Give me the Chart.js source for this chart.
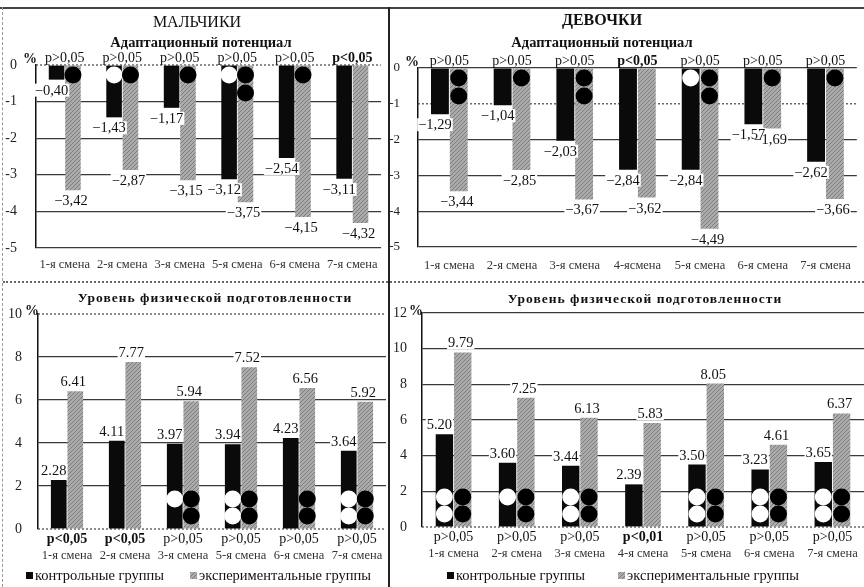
<!DOCTYPE html>
<html>
<head>
<meta charset="utf-8">
<title>Адаптационный потенциал и уровень физической подготовленности</title>
<script src="https://cdn.jsdelivr.net/npm/chart.js@4.4.1/dist/chart.umd.min.js"></script>
<style>
body { margin:0; width:864px; height:587px; position:relative; overflow:hidden; background:#fff;
       font-family:"Liberation Serif", serif; color:#111; }
canvas { position:absolute; }
.ttl { position:absolute; width:400px; text-align:center; line-height:1; white-space:nowrap; }
.rule { position:absolute; }
</style>
</head>
<body>

<canvas id="boys-adapt-viz"  style="left:0px;top:0px;width:389px;height:288px"   width="389" height="288"></canvas>
<canvas id="girls-adapt-viz" style="left:390px;top:0px;width:474px;height:288px" width="474" height="288"></canvas>
<canvas id="boys-fit-viz"    style="left:0px;top:283px;width:389px;height:304px"   width="389" height="304"></canvas>
<canvas id="girls-fit-viz"   style="left:390px;top:283px;width:474px;height:304px" width="474" height="304"></canvas>

<div class="ttl" style="left:-3px;top:14px;font-size:16px">МАЛЬЧИКИ</div>
<div class="ttl" style="left:1px;top:35px;font-size:14.5px;font-weight:bold">Адаптационный потенциал</div>
<div class="ttl" style="left:402px;top:12px;font-size:16px;font-weight:bold">ДЕВОЧКИ</div>
<div class="ttl" style="left:402px;top:35px;font-size:14.5px;font-weight:bold">Адаптационный потенциал</div>
<div class="ttl" style="left:15px;top:291px;font-size:13.5px;font-weight:bold;letter-spacing:1px">Уровень физической подготовленности</div>
<div class="ttl" style="left:445px;top:292px;font-size:13.5px;font-weight:bold;letter-spacing:1px">Уровень физической подготовленности</div>

<div class="rule" style="left:0;top:7px;width:864px;border-top:2px solid #444"></div>
<div class="rule" style="left:388px;top:7px;height:580px;border-left:2px solid #222"></div>
<div class="rule" style="left:3px;top:281px;width:861px;border-top:2px dotted #666"></div>
<div class="rule" style="left:2px;top:7px;height:580px;border-left:1px dashed #999"></div>

<script>
// Shifts (categories)
var shiftsBoys      = ['1-я смена', '2-я смена', '3-я смена', '5-я смена', '6-я смена', '7-я смена'];
var shiftsGirls     = ['1-я смена', '2-я смена', '3-я смена', '4-ясмена', '5-я смена', '6-я смена', '7-я смена'];
var shiftsGirlsFit  = ['1-я смена', '2-я смена', '3-я смена', '4-я смена', '5-я смена', '6-я смена', '7-я смена'];

// Adaptation potential, % change
var boysAdaptCtrl  = [-0.40, -1.43, -1.17, -3.12, -2.54, -3.11];
var boysAdaptExp   = [-3.42, -2.87, -3.15, -3.75, -4.15, -4.32];
var boysAdaptP     = ['p>0,05', 'p>0,05', 'p>0,05', 'p>0,05', 'p>0,05', 'p<0,05'];
var girlsAdaptCtrl = [-1.29, -1.04, -2.03, -2.84, -2.84, -1.57, -2.62];
var girlsAdaptExp  = [-3.44, -2.85, -3.67, -3.62, -4.49, -1.69, -3.66];
var girlsAdaptP    = ['p>0,05', 'p>0,05', 'p>0,05', 'p<0,05', 'p>0,05', 'p>0,05', 'p>0,05'];

// Physical fitness level, % change
var boysFitCtrl  = [2.28, 4.11, 3.97, 3.94, 4.23, 3.64];
var boysFitExp   = [6.41, 7.77, 5.94, 7.52, 6.56, 5.92];
var boysFitP     = ['p<0,05', 'p<0,05', 'p>0,05', 'p>0,05', 'p>0,05', 'p>0,05'];
var girlsFitCtrl = [5.20, 3.60, 3.44, 2.39, 3.50, 3.23, 3.65];
var girlsFitExp  = [9.79, 7.25, 6.13, 5.83, 8.05, 4.61, 6.37];
var girlsFitP    = ['p>0,05', 'p>0,05', 'p>0,05', 'p<0,01', 'p>0,05', 'p>0,05', 'p>0,05'];

// Circle markers per shift: white ones sit on the control bar, black ones on the experimental bar
var boysAdaptWhite  = [0, 1, 0, 1, 0, 0];
var boysAdaptBlack  = [1, 1, 1, 2, 1, 0];
var girlsAdaptWhite = [0, 0, 0, 0, 1, 0, 0];
var girlsAdaptBlack = [2, 1, 2, 0, 2, 1, 1];
var boysFitWhite    = [0, 0, 1, 2, 0, 2];
var boysFitBlack    = [0, 0, 2, 2, 2, 2];
var girlsFitWhite   = [2, 1, 2, 0, 2, 2, 2];
var girlsFitBlack   = [2, 2, 2, 0, 2, 2, 2];

Chart.defaults.font.family = '"Liberation Serif", "Times New Roman", serif';
Chart.defaults.color = '#222';

// grey hatched fill for the experimental groups
function make_hatch() {
	var c = document.createElement('canvas');
	c.width = 4; c.height = 4;
	var g = c.getContext('2d');
	g.fillStyle = '#ababab';
	g.fillRect(0, 0, 4, 4);
	g.strokeStyle = '#7c7c7c';
	g.lineWidth = 1;
	g.beginPath(); g.moveTo(0, 4); g.lineTo(4, 0); g.stroke();
	g.beginPath(); g.moveTo(-1, 1); g.lineTo(1, -1); g.stroke();
	g.beginPath(); g.moveTo(3, 5); g.lineTo(5, 3); g.stroke();
	return g.createPattern(c, 'repeat');
}
var hatch = make_hatch();

// dotted lines, circles, value labels, '%' sign and legend
var marksPlugin = {
	id: 'marks',
	beforeDatasetsDraw: function(chart) {
		var o = chart.options.plugins.marks;
		var ctx = chart.ctx, ys = chart.scales.y, area = chart.chartArea;
		ctx.save();
		ctx.strokeStyle = '#444';
		ctx.lineWidth = 1.2;
		ctx.setLineDash([2, 2]);
		o.dotted.forEach(function(v) {
			var y = ys.getPixelForValue(v);
			ctx.beginPath(); ctx.moveTo(area.left, y); ctx.lineTo(area.right, y); ctx.stroke();
		});
		ctx.restore();
	},
	afterDatasetsDraw: function(chart) {
		var o = chart.options.plugins.marks;
		var ctx = chart.ctx, ys = chart.scales.y;
		var base = ys.getPixelForValue(0);
		ctx.save();

		function dots(meta, counts, color) {
			counts.forEach(function(n, i) {
				for (var k = 0; k < n; k++) {
					var y = o.down ? base + 10 + k * 18 : base - 30 + k * 17;
					ctx.fillStyle = color;
					ctx.beginPath();
					ctx.arc(meta.data[i].x, y, 8.5, 0, Math.PI * 2);
					ctx.fill();
				}
			});
		}
		dots(chart.getDatasetMeta(0), o.white, '#fff');
		dots(chart.getDatasetMeta(1), o.black, '#000');

		// value labels: white boxes first, then the text
		ctx.font = '14.5px "Liberation Serif"';
		ctx.textAlign = 'center';
		ctx.textBaseline = 'top';
		var labels = [];
		chart.data.datasets.forEach(function(ds, d) {
			chart.getDatasetMeta(d).data.forEach(function(bar, i) {
				var v = ds.data[i];
				var txt = o.down ? '\u2212' + Math.abs(v).toFixed(2).replace('.', ',') : v.toFixed(2);
				labels.push({ txt: txt, x: bar.x + (d == 0 ? -5 : -2), y: o.down ? bar.y + 4 : bar.y - 16 });
			});
		});
		ctx.fillStyle = '#fff';
		labels.forEach(function(l) {
			var w = ctx.measureText(l.txt).width;
			ctx.fillRect(l.x - w / 2 - 1, l.y, w + 2, 13);
		});
		ctx.fillStyle = '#111';
		labels.forEach(function(l) { ctx.fillText(l.txt, l.x, l.y); });
		ctx.restore();
	},
	afterDraw: function(chart) {
		var o = chart.options.plugins.marks;
		var ctx = chart.ctx, area = chart.chartArea;
		ctx.save();
		ctx.font = 'bold 14px "Liberation Serif"';
		ctx.fillStyle = '#111';
		ctx.textAlign = 'right';
		ctx.textBaseline = 'middle';
		ctx.fillText('%', area.left + 1, area.top + o.pctDy);

		// legend row, centred in the panel
		if (o.legendY != null) {
			ctx.font = '14.5px "Liberation Serif"';
			ctx.textAlign = 'left';
			var items = chart.data.datasets;
			var total = 0;
			items.forEach(function(ds, d) {
				total += 9 + ctx.measureText(ds.label).width + (d > 0 ? o.legendGap : 0);
			});
			var x = chart.width / 2 - total / 2 + o.legendShift;
			items.forEach(function(ds) {
				ctx.fillStyle = ds.backgroundColor;
				ctx.fillRect(x, o.legendY - 4, 7, 7);
				ctx.fillStyle = '#111';
				ctx.fillText(ds.label, x + 9, o.legendY);
				x += 9 + ctx.measureText(ds.label).width + o.legendGap;
			});
		}
		ctx.restore();
	}
};

function generate_panel(canvas_id, xLabels, pLabels, ctrl, expr, white, black, cfg) {
	var ctx = document.getElementById(canvas_id);
	var datasets = [
		{ label: 'контрольные группы', data: ctrl, backgroundColor: '#0a0a0a',
		  barPercentage: 0.95, categoryPercentage: cfg.catPct, xAxisID: 'x', yAxisID: 'y' },
		{ label: 'экспериментальные группы', data: expr, backgroundColor: hatch,
		  barPercentage: 0.95, categoryPercentage: cfg.catPct, xAxisID: 'x', yAxisID: 'y' }
	];
	var cfgChart = {
		type: 'bar',
		data: { labels: xLabels, datasets: datasets },
		plugins: [ marksPlugin ],
		options: {
			responsive: false,
			animation: false,
			layout: { padding: cfg.padding },
			plugins: {
				legend: { display: false },
				title: { display: false },
				tooltip: { enabled: false },
				marks: { down: cfg.down, dotted: cfg.dotted, white: white, black: black, pctDy: cfg.pctDy,
				         legendY: cfg.legendY, legendGap: cfg.legendGap, legendShift: cfg.legendShift }
			},
			scales: {
				x: { type: 'category', labels: xLabels, offset: true, position: 'bottom', weight: 1,
				     grid: { display: false, drawTicks: false }, border: { display: false },
				     ticks: { font: { size: 12.5, lineHeight: 1 }, padding: cfg.catPad, color: '#333',
				              maxRotation: 0, autoSkip: false } },
				xp: { type: 'category', labels: pLabels, offset: true, position: cfg.down ? 'top' : 'bottom', weight: 0,
				      grid: { display: false, drawTicks: false }, border: { display: false },
				      ticks: { font: function(c) {
				                   return { size: 14, lineHeight: 1, weight: pLabels[c.index].indexOf('<') >= 0 ? 'bold' : 'normal' };
				               },
				               padding: cfg.pPad, color: '#111', maxRotation: 0, autoSkip: false } },
				y: { min: cfg.min, max: cfg.max,
				     afterFit: function(scale) { scale.width = cfg.yWidth; },
				     ticks: { stepSize: cfg.step, font: { size: cfg.yFont }, padding: cfg.yPad, color: '#222' },
				     grid: { drawTicks: false, lineWidth: 1.2,
				             color: function(c) { return cfg.dotted.indexOf(c.tick.value) >= 0 ? 'rgba(0,0,0,0)' : '#3a3a3a'; } },
				     border: { display: true, color: '#111', width: 1.5 } }
			}
		}
	};
	new Chart(ctx, cfgChart);
} // generate_panel

// Boys, adaptation potential
generate_panel('boys-adapt-viz', shiftsBoys, boysAdaptP, boysAdaptCtrl, boysAdaptExp, boysAdaptWhite, boysAdaptBlack,
	{ down: true, min: -5, max: 0, step: 1, yFont: 14, yPad: 19, yWidth: 36, catPct: 0.57, catPad: 10.75, pPad: 0,
	  dotted: [0], pctDy: -6, padding: { top: 51, left: 0, right: 3, bottom: 6 } });

// Girls, adaptation potential
generate_panel('girls-adapt-viz', shiftsGirls, girlsAdaptP, girlsAdaptCtrl, girlsAdaptExp, girlsAdaptWhite, girlsAdaptBlack,
	{ down: true, min: -5, max: 0, step: 1, yFont: 13, yPad: 18, yWidth: 28, catPct: 0.6, catPad: 12.75, pPad: 0,
	  dotted: [-1], pctDy: -6, padding: { top: 54, left: 0, right: 0, bottom: 3 } });

// Boys, physical fitness
generate_panel('boys-fit-viz', shiftsBoys, boysFitP, boysFitCtrl, boysFitExp, boysFitWhite, boysFitBlack,
	{ down: false, min: 0, max: 10, step: 2, yFont: 14, yPad: 16, yWidth: 38, catPct: 0.57, catPad: 0, pPad: 3,
	  dotted: [10, 0], pctDy: -3, padding: { top: 31, left: 0, right: 3, bottom: 25.5 },
	  legendY: 293, legendGap: 26, legendShift: 4 });

// Girls, physical fitness
generate_panel('girls-fit-viz', shiftsGirlsFit, girlsFitP, girlsFitCtrl, girlsFitExp, girlsFitWhite, girlsFitBlack,
	{ down: false, min: 0, max: 12, step: 2, yFont: 14, yPad: 15, yWidth: 32, catPct: 0.58, catPad: 0, pPad: 3,
	  dotted: [0], pctDy: -2, padding: { top: 30, left: 0, right: 0, bottom: 27.5 },
	  legendY: 293, legendGap: 33, legendShift: -4 });
</script>
</body>
</html>
